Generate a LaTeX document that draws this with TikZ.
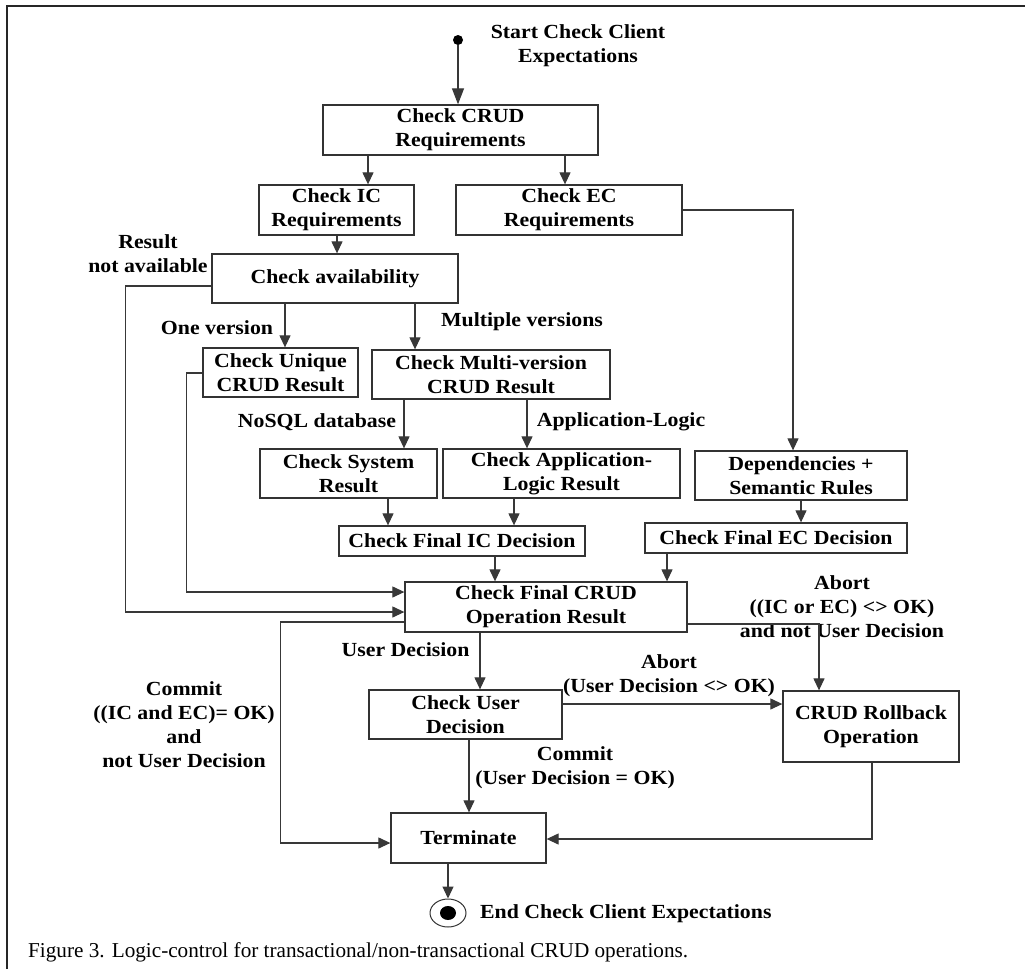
\documentclass[tikz,border=0pt]{standalone}
\usepackage{fontspec}
\setmainfont{Liberation Serif}
\newfontfamily\lblfont{Liberation Serif}[FakeStretch=1.09]
\usetikzlibrary{arrows.meta,shapes.geometric}
\tikzset{
  box/.style={draw=black!80, line width=1.3pt, rectangle, inner sep=0pt, align=center,
    font={\lblfont\bfseries\fontsize{20}{24}\selectfont}},
  lbl/.style={inner sep=0pt, align=center, font={\lblfont\bfseries\fontsize{20}{24}\selectfont}},
  arr/.style={draw=black!78, line width=1.2pt, -{Triangle[length=12pt,width=11pt]}},
  frame/.style={draw=black!85, line width=2pt}
}
\begin{document}
\begin{tikzpicture}[x=1pt,y=-1pt]
\useasboundingbox (0,0) rectangle (1025,969);
\draw[frame] (7,969) -- (7,6) -- (1025,6);

% nodes
\node[circle, fill=black, inner sep=0pt, minimum size=10pt] (start) at (458,40) {};
\node[box, minimum width=275pt, minimum height=50pt] (crud) at (460.5,130) {Check CRUD\\Requirements};
\node[box, minimum width=155pt, minimum height=50pt] (ic) at (336.5,210) {Check IC\\Requirements};
\node[box, minimum width=226pt, minimum height=50pt] (ec) at (569,210) {Check EC\\Requirements};
\node[box, minimum width=246pt, minimum height=49pt] (avail) at (335,278.5) {Check availability};
\node[box, minimum width=155pt, minimum height=49pt] (uniq) at (280.5,372.5) {Check Unique\\CRUD Result};
\node[box, minimum width=238pt, minimum height=49pt] (multi) at (491,374.5) {Check Multi-version\\CRUD Result};
\node[box, minimum width=177pt, minimum height=49pt] (sys) at (348.5,473.5) {Check System\\Result};
\node[box, minimum width=237pt, minimum height=49pt] (app) at (561.5,473.5) {Check Application-\\Logic Result};
\node[box, minimum width=212pt, minimum height=49pt] (dep) at (801,475.5) {Dependencies +\\Semantic Rules};
\node[box, minimum width=246pt, minimum height=30pt] (fic) at (462,541) {Check Final IC Decision};
\node[box, minimum width=262pt, minimum height=30pt] (fec) at (776,538) {Check Final EC Decision};
\node[box, minimum width=282pt, minimum height=50pt] (fcrud) at (546,607) {Check Final CRUD\\Operation Result};
\node[box, minimum width=193pt, minimum height=49pt] (user) at (465.5,714.5) {Check User\\Decision};
\node[box, minimum width=176pt, minimum height=71pt] (roll) at (871,726.5) {CRUD Rollback\\Operation};
\node[box, minimum width=155pt, minimum height=50pt] (term) at (468.5,838) {Terminate};
\node[draw=black!80, line width=1pt, ellipse, inner sep=0pt, minimum width=36pt, minimum height=28pt] (end) at (448,913) {};
\node[fill=black, ellipse, inner sep=0pt, minimum width=16pt, minimum height=14pt] (enddot) at (end.center) {};

% labels
\node[lbl] (lstart) at (578,46) {Start Check Client\\Expectations};
\node[lbl] (lna) at (148,254) {Result\\not available};
\node[lbl] (lone) at (217,328) {One version};
\node[lbl] (lmul) at (522,322) {Multiple versions};
\node[lbl] (lnosql) at (317,422) {NoSQL database};
\node[lbl] (lapp) at (621,422) {Application-Logic};
\node[lbl] (lud) at (405.5,650) {User Decision};
\node[lbl] (labort1) at (842,607) {Abort\\((IC or EC) <> OK)\\and not User Decision};
\node[lbl] (labort2) at (669,675.5) {Abort\\(User Decision <> OK)};
\node[lbl] (lcommit2) at (575,768) {Commit\\(User Decision = OK)};
\node[lbl] (lcommit1) at (184,725) {Commit\\((IC and EC)= OK)\\and\\not User Decision};
\node[lbl, anchor=west] (lend) at (480,914) {End Check Client Expectations};
\node[anchor=base west, inner sep=0pt, font={\fontsize{21.2}{25}\selectfont}] (cap) at (28,957) {Figure 3. Logic-control for transactional/non-transactional CRUD operations.};

% connectors
\draw[arr, -{Triangle[length=16pt,width=12pt]}] (start) -- (start |- crud.north);
\draw[arr] (368,0 |- crud.south) -- (368,0 |- ic.north);
\draw[arr] (565,0 |- crud.south) -- (565,0 |- ec.north);
\draw[arr] (337,0 |- ic.south) -- (337,0 |- avail.north);
\draw[arr] (285,0 |- avail.south) -- (285,0 |- uniq.north);
\draw[arr] (415,0 |- avail.south) -- (415,0 |- multi.north);
\draw[arr] (404,0 |- multi.south) -- (404,0 |- sys.north);
\draw[arr] (527,0 |- multi.south) -- (527,0 |- app.north);
\draw[arr] (388,0 |- sys.south) -- (388,0 |- fic.north);
\draw[arr] (514,0 |- app.south) -- (514,0 |- fic.north);
\draw[arr] (495,0 |- fic.south) -- (495,0 |- fcrud.north);
\draw[arr] (ec.east) -| (793,0 |- dep.north);
\draw[arr] (801,0 |- dep.south) -- (801,0 |- fec.north);
\draw[arr] (667,0 |- fec.south) -- (667,0 |- fcrud.north);
\draw[arr] (avail.west |- 0,286) -- ++(-86,0) |- (fcrud.west |- 0,612);
\draw[arr] (uniq.west |- 0,373) -- ++(-16,0) |- (fcrud.west |- 0,592);
\draw[arr] (fcrud.east |- 0,624) -| (819,0 |- roll.north);
\draw[arr] (480,0 |- fcrud.south) -- (480,0 |- user.north);
\draw[arr] (fcrud.west |- 0,622) -- ++(-124,0) |- (term.west |- 0,843);
\draw[arr] (user.east |- 0,704) -- (roll.west |- 0,704);
\draw[arr] (469,0 |- user.south) -- (469,0 |- term.north);
\draw[arr] (872,0 |- roll.south) |- (term.east |- 0,839);
\draw[arr] (end.north |- term.south) -- (end.north);
\end{tikzpicture}
\end{document}
